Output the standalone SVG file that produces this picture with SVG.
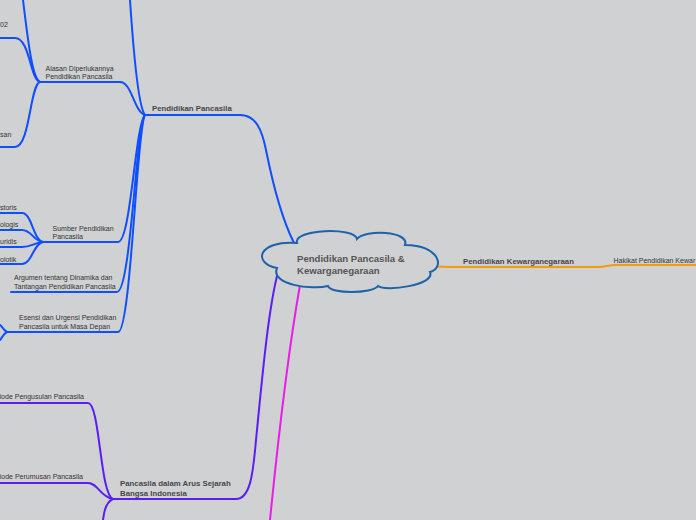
<svg xmlns="http://www.w3.org/2000/svg" width="696" height="520" viewBox="0 0 696 520">
<style>
.bg{fill:#d0d1d3}
.c{fill:none;stroke-width:2;stroke-linecap:round;stroke-linejoin:round}
.bl{stroke:#0f4fff}
.pu{stroke:#5a1ef5}
.ma{stroke:#e81ee8}
.or{stroke:#f79a0a}
.t{font-family:"Liberation Sans",Arial,sans-serif;font-size:7px;fill:#333}
.b{font-family:"Liberation Sans",Arial,sans-serif;font-size:7.8px;font-weight:bold;fill:#474747}
.r{font-family:"Liberation Sans",Arial,sans-serif;font-size:9.6px;font-weight:bold;fill:#555}
.cloud{fill:#d0d1d3;stroke:#1d62aa;stroke-width:2}
</style>
<rect class="bg" x="0" y="0" width="696" height="520"/>
<g id="connectors">
  <path class="c bl" d="M294,243 C280,215 272,180 266,150 C262,130 256,115 240,115 L145,115" stroke-width="2.3"/>
  <path class="c bl" d="M145,115 C139,108 134,60 130,0"/>
  <path class="c bl" d="M145,115 C134,112 132,82 120,82 L40,82"/>
  <path class="c bl" d="M145,115 C135,125 131,242 118,242 L43,242"/>
  <path class="c bl" d="M145,115 C136,125 131,292 117,292 L11,292"/>
  <path class="c bl" d="M145,115 C137,125 131,332 118,332 L7,332"/>
  <path class="c bl" d="M40,82 C32,78 28,40 23,0"/>
  <path class="c bl" d="M40,82 C30,80 30,38 15,38 L0,38"/>
  <path class="c bl" d="M40,82 C30,84 30,147 15,147 L0,147"/>
  <path class="c bl" d="M43,242 C33,240 32,213 22,213 L0,213"/>
  <path class="c bl" d="M43,242 C33,241 32,230 22,230 L0,230"/>
  <path class="c bl" d="M43,242 C33,243 32,247 22,247 L0,247"/>
  <path class="c bl" d="M43,242 C33,244 32,264 22,264 L0,264"/>
  <path class="c bl" d="M7,332 C3,330 2,326 0,325"/>
  <path class="c bl" d="M7,332 C3,334 2,338 0,340"/>
  <path class="c pu" d="M278,272 C268,310 262,380 256,440 C253,475 250,499 236,499 L113,499"/>
  <path class="c pu" d="M113,499 C100,495 100,403 88,403 L0,403"/>
  <path class="c pu" d="M113,499 C100,497 98,483 88,483 L0,483"/>
  <path class="c pu" d="M113,499 C106,502 104,510 103,520"/>
  <path class="c ma" d="M300,285 C292,330 280,420 270,520"/>
  <path class="c or" d="M432,266 C440,267 448,267 458,267 L598,267 C606,267 608,265 616,265 L696,265"/>
</g>
<g id="root">
  <path class="cloud" d="M297,243 C293,229 355,227 357,239 C365,229 410,231 405,245 C440,245 445,268 430,272 C436,285 385,292 378,286 C372,294 330,294 328,286 C312,290 270,285 277,268 C252,263 258,240 297,243 Z"/>
  <text class="r" x="297" y="262">Pendidikan Pancasila &amp;</text>
  <text class="r" x="297" y="274">Kewarganegaraan</text>
</g>
<g id="n-pendidikan-pancasila"><text class="b" x="152" y="110.5">Pendidikan Pancasila</text></g>
<g id="n-alasan"><text class="t" x="45.5" y="71">Alasan Diperlukannya</text><text class="t" x="45.5" y="79">Pendidikan Pancasila</text></g>
<g id="n-a1"><text class="t" x="0" y="27">02</text></g>
<g id="n-a2"><text class="t" x="0" y="136.5">san</text></g>
<g id="n-sumber"><text class="t" x="52.5" y="231">Sumber Pendidikan</text><text class="t" x="52.5" y="239">Pancasila</text></g>
<g id="n-s1"><text class="t" x="0" y="209.5">storis</text></g>
<g id="n-s2"><text class="t" x="0" y="227">ologis</text></g>
<g id="n-s3"><text class="t" x="0" y="244">uridis</text></g>
<g id="n-s4"><text class="t" x="0" y="261.5">olotik</text></g>
<g id="n-argumen"><text class="t" x="14" y="280">Argumen tentang Dinamika dan</text><text class="t" x="14" y="288.5">Tantangan Pendidikan Pancasila</text></g>
<g id="n-esensi"><text class="t" x="19" y="320">Esensi dan Urgensi Pendidikan</text><text class="t" x="19" y="328.5">Pancasila untuk Masa Depan</text></g>
<g id="n-sejarah"><text class="b" x="120" y="486">Pancasila dalam Arus Sejarah</text><text class="b" x="120" y="495.5">Bangsa Indonesia</text></g>
<g id="n-pengusulan"><text class="t" x="84" y="398.5" text-anchor="end">iode Pengusulan Pancasila</text></g>
<g id="n-perumusan"><text class="t" x="83" y="479" text-anchor="end">iode Perumusan Pancasila</text></g>
<g id="n-kewarganegaraan"><text class="b" x="463" y="263.5">Pendidikan Kewarganegaraan</text></g>
<g id="n-hakikat"><text class="t" x="613.5" y="262.5">Hakikat Pendidikan Kewar</text></g>
</svg>
